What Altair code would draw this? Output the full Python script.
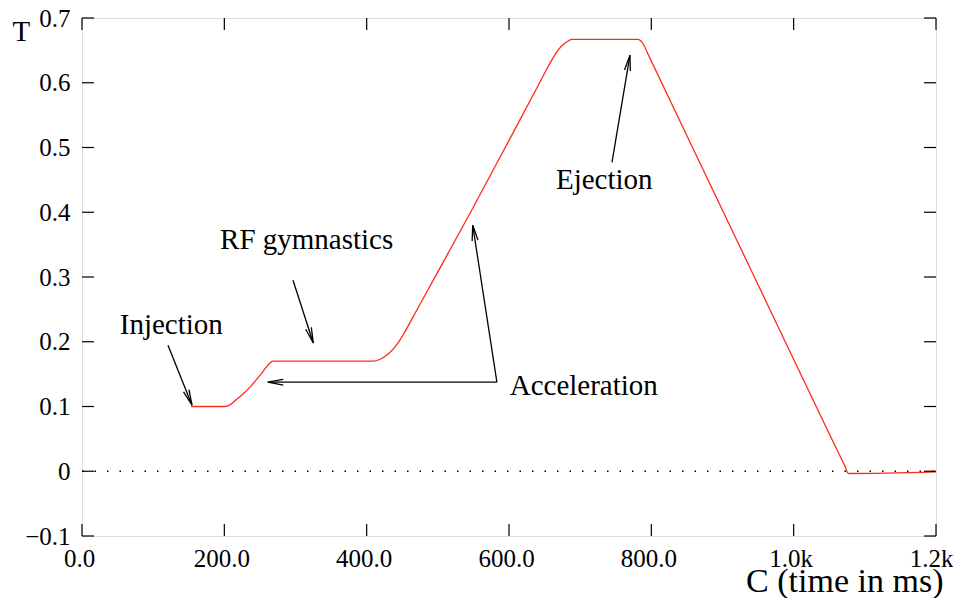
import math
import altair as alt
import pandas as pd

# ---- data ----
time_ms = [153, 201, 208, 217, 227, 236, 244, 250, 256, 261, 265, 268,
           409, 419, 429, 439, 447, 453, 465, 478, 546, 600, 643, 652,
           660, 668, 675, 681, 688, 781, 788, 795, 850, 950, 1050, 1072, 1077, 1200]
field_T = [0.100, 0.100, 0.1025, 0.111, 0.120, 0.130, 0.140, 0.148, 0.1565, 0.1635, 0.168, 0.170,
           0.170, 0.173, 0.180, 0.191, 0.203, 0.214, 0.238, 0.264, 0.400, 0.511, 0.600, 0.619,
           0.635, 0.649, 0.658, 0.663, 0.667, 0.667, 0.661, 0.645, 0.518, 0.288, 0.058, 0.008, -0.0035, -0.001]

x_ticks = [0, 200, 400, 600, 800, 1000, 1200]
y_ticks = [-0.1, 0.0, 0.1, 0.2, 0.3, 0.4, 0.5, 0.6, 0.7]

label_text = ["Injection", "RF gymnastics", "Acceleration", "Ejection"]
label_x = [53, 194, 601, 666]
label_y = [0.2116, 0.344, 0.117, 0.4355]

# arrows: start (x1,y1) -> tip (x2,y2)
arrow_x1 = [120.8, 296.5, 583, 583, 744.7]
arrow_y1 = [0.1946, 0.295, 0.1375, 0.1375, 0.477]
arrow_x2 = [154.6, 325, 261, 549, 770]
arrow_y2 = [0.102, 0.198, 0.1375, 0.380, 0.6425]

W, H = 854, 518
X_DOM = [0, 1200]
Y_DOM = [-0.1, 0.7]
FONT = "Liberation Serif"

curve = pd.DataFrame({"t": time_ms, "T": field_T})
labels = pd.DataFrame({"text": label_text, "x": label_x, "y": label_y})

px_x = W / (X_DOM[1] - X_DOM[0])
px_y = H / (Y_DOM[1] - Y_DOM[0])
angles = []
for a, b, c, d in zip(arrow_x1, arrow_y1, arrow_x2, arrow_y2):
    dx = (c - a) * px_x
    dy = -(d - b) * px_y
    angles.append(math.degrees(math.atan2(dx, -dy)) % 360)
arrows = pd.DataFrame({"x1": arrow_x1, "y1": arrow_y1, "x2": arrow_x2, "y2": arrow_y2, "ang": angles})

xs = alt.Scale(domain=X_DOM, nice=False, zero=False)
ys = alt.Scale(domain=Y_DOM, nice=False, zero=False)

x_label_expr = "datum.value >= 1000 ? format(datum.value/1000, '.1f') + 'k' : format(datum.value, '.1f')"
y_label_expr = "datum.value == 0 ? '0' : replace(format(datum.value, '.1f'), '-', '\u2212')"

x_axis = alt.Axis(values=x_ticks, labelExpr=x_label_expr, ticks=False, domain=False, grid=False,
                  labelFont=FONT, labelFontSize=25, labelColor="black", labelPadding=10,
                  labelFlush=False, labelOverlap=False,
                  labelOffset=alt.ExprRef("datum.value == 1200 ? -5 : -3"),
                  title="C (time in ms)", titleFont=FONT, titleFontSize=34, titleFontWeight="normal",
                  titleColor="black", titleX=861, titleY=55, titleAlign="right",
                  titleBaseline="alphabetic")
y_axis = alt.Axis(values=y_ticks, labelExpr=y_label_expr, ticks=False, domain=False, grid=False,
                  labelFont=FONT, labelFontSize=25, labelColor="black", labelPadding=12,
                  labelFlush=False, labelOverlap=False,
                  title="T", titleFont=FONT, titleFontSize=29, titleFontWeight="normal",
                  titleColor="black", titleAngle=0, titleX=-70, titleY=22, titleAlign="left",
                  titleBaseline="alphabetic")

line = alt.Chart(curve).mark_line(color="#ff2a1a", strokeWidth=1.3, interpolate="monotone").encode(
    x=alt.X("t:Q", scale=xs, axis=x_axis),
    y=alt.Y("T:Q", scale=ys, axis=y_axis),
    order="t:Q",
)

zero = alt.Chart(pd.DataFrame({"z": [0.0]})).mark_rule(
    color="black", strokeWidth=1.5, strokeDash=[1.5, 11]
).encode(y=alt.Y("z:Q", scale=ys), x=alt.value(0), x2=alt.value(W))

xt = pd.DataFrame({"v": x_ticks})
yt = pd.DataFrame({"v": y_ticks})
tick_style = dict(color="black", strokeWidth=1.2)
xt_bottom = alt.Chart(xt).mark_rule(**tick_style).encode(
    x=alt.X("v:Q", scale=xs), y=alt.value(H), y2=alt.value(H - 12))
xt_top = alt.Chart(xt).mark_rule(**tick_style).encode(
    x=alt.X("v:Q", scale=xs), y=alt.value(0), y2=alt.value(12))
yt_left = alt.Chart(yt).mark_rule(**tick_style).encode(
    y=alt.Y("v:Q", scale=ys), x=alt.value(0), x2=alt.value(12))
yt_right = alt.Chart(yt).mark_rule(**tick_style).encode(
    y=alt.Y("v:Q", scale=ys), x=alt.value(W), x2=alt.value(W - 12))

arrow_lines = alt.Chart(arrows).mark_rule(color="black", strokeWidth=1.3).encode(
    x=alt.X("x1:Q", scale=xs), y=alt.Y("y1:Q", scale=ys), x2="x2:Q", y2="y2:Q")
arrow_heads = alt.Chart(arrows).mark_point(
    shape="M-0.38,2L0,0L0.38,2", filled=False, color="black", strokeWidth=1.3, size=240, opacity=1
).encode(
    x=alt.X("x2:Q", scale=xs), y=alt.Y("y2:Q", scale=ys),
    angle=alt.Angle("ang:Q", scale=None))

texts = alt.Chart(labels).mark_text(
    font=FONT, fontSize=29, color="black", align="left", baseline="alphabetic"
).encode(x=alt.X("x:Q", scale=xs), y=alt.Y("y:Q", scale=ys), text="text:N")

chart = alt.layer(
    zero, line, xt_bottom, xt_top, yt_left, yt_right, arrow_lines, arrow_heads, texts
).properties(
    width=W, height=H,
    autosize=alt.AutoSizeParams(type="none"),
    padding={"left": 74, "top": 10, "right": 17, "bottom": 62},
).configure_view(stroke="black", strokeWidth=1.5).configure(background="white")

chart.save("out.html", embed_options={"renderer": "svg", "actions": False})
